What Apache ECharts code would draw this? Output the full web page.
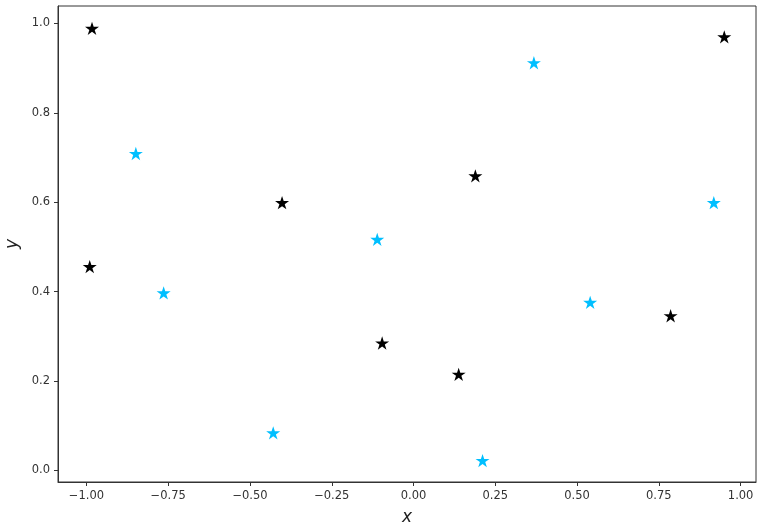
<!DOCTYPE html>
<html>
<head>
<meta charset="utf-8">
<script src="https://cdn.jsdelivr.net/npm/echarts@6/dist/echarts.min.js"></script>
<style>
    html, body { margin: 0; padding: 0; background: #fff; }
    #chart { width: 762px; height: 529px; }
</style>
</head>
<body>
<div id="chart"></div>
<script>
// black stars
const blackX = [-0.983, -0.990, -0.402, -0.096, 0.189, 0.138, 0.786, 0.950]
const blackY = [0.989, 0.456, 0.599, 0.285, 0.659, 0.215, 0.346, 0.970]
// blue stars
const blueX = [-0.849, -0.764, -0.429, -0.111, 0.211, 0.368, 0.540, 0.918]
const blueY = [0.709, 0.397, 0.084, 0.517, 0.022, 0.912, 0.376, 0.599]

const xTicks = [-1.0, -0.75, -0.5, -0.25, 0.0, 0.25, 0.5, 0.75, 1.0]
const yTicks = [0.0, 0.2, 0.4, 0.6, 0.8, 1.0]

const star = 'path://M100 0 L122.45 69.1 L195.11 69.1 L136.33 111.8 L158.78 180.9 L100 138.2 L41.22 180.9 L63.67 111.8 L4.89 69.1 L77.55 69.1 Z'

function pairs(xs, ys) {
    return xs.map((x, i) => [x, ys[i]])
}
function fmt(v, d) {
    return v.toFixed(d).replace('-', '\u2212')
}

let chart = echarts.init(document.getElementById('chart'))
chart.setOption({
    animation: false,
    grid: {
        left: 58,
        right: 6,
        top: 6,
        bottom: 47,
        outerBoundsMode: 'none',
        containLabel: false,
        show: true,
        borderColor: '#333',
        borderWidth: 1
    },
    xAxis: {
        type: 'value',
        min: -1.087,
        max: 1.047,
        name: 'x',
        nameLocation: 'middle',
        nameGap: 27,
        nameTextStyle: {
            color: '#222',
            fontSize: 17,
            fontStyle: 'italic',
            fontFamily: 'DejaVu Sans'
        },
        splitLine: { show: false },
        axisLine: { show: true, onZero: false, lineStyle: { color: '#333' } },
        axisTick: {
            show: true,
            length: 4,
            customValues: xTicks,
            lineStyle: { color: '#333' }
        },
        axisLabel: {
            customValues: xTicks,
            margin: 8,
            color: '#333',
            fontSize: 11.5,
            fontFamily: 'DejaVu Sans',
            formatter: v => fmt(v, 2)
        }
    },
    yAxis: {
        type: 'value',
        min: -0.026,
        max: 1.039,
        name: 'y',
        nameLocation: 'middle',
        nameGap: 37,
        nameTextStyle: {
            color: '#222',
            fontSize: 17,
            fontStyle: 'italic',
            fontFamily: 'DejaVu Sans'
        },
        splitLine: { show: false },
        axisLine: { show: true, onZero: false, lineStyle: { color: '#333' } },
        axisTick: {
            show: true,
            length: 4,
            customValues: yTicks,
            lineStyle: { color: '#333' }
        },
        axisLabel: {
            customValues: yTicks,
            margin: 8,
            color: '#333',
            fontSize: 11.5,
            fontFamily: 'DejaVu Sans',
            formatter: v => fmt(v, 1)
        }
    },
    series: [{
        type: 'scatter',
        symbol: star,
        symbolSize: 14,
        symbolKeepAspect: true,
        itemStyle: { color: '#000000', opacity: 1 },
        data: pairs(blackX, blackY)
    }, {
        type: 'scatter',
        symbol: star,
        symbolSize: 14,
        symbolKeepAspect: true,
        itemStyle: { color: '#00bfff', opacity: 1 },
        data: pairs(blueX, blueY)
    }]
})
</script>
</body>
</html>
